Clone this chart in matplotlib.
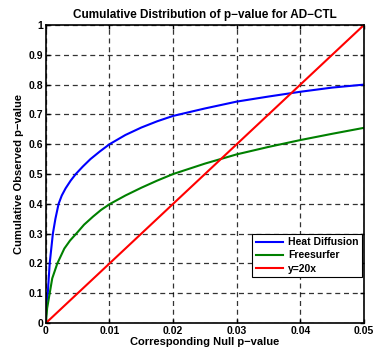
import numpy as np
import matplotlib
matplotlib.use("Agg")
import matplotlib.pyplot as plt

heat_x = [0, 0.00003, 0.0001, 0.0003, 0.0006, 0.0011, 0.0015, 0.002, 0.0025, 0.0031,
          0.0039, 0.0047, 0.0058, 0.007, 0.0085, 0.01, 0.0125, 0.015, 0.0175, 0.02,
          0.025, 0.03, 0.035, 0.04, 0.045, 0.05]
heat_y = [0, 0.04, 0.07, 0.1, 0.2, 0.3, 0.35, 0.4, 0.428, 0.452,
          0.478, 0.5, 0.525, 0.55, 0.576, 0.6, 0.631, 0.656, 0.677, 0.695,
          0.72, 0.743, 0.76, 0.776, 0.79, 0.80]
fs_x = [0, 0.0002, 0.0006, 0.001, 0.0018, 0.0029, 0.0038, 0.0049, 0.006, 0.0074,
        0.0087, 0.0101, 0.0125, 0.015, 0.0175, 0.02, 0.025, 0.03, 0.035, 0.04,
        0.045, 0.05]
fs_y = [0, 0.05, 0.1, 0.15, 0.2, 0.25, 0.277, 0.303, 0.33, 0.357,
        0.38, 0.4, 0.428, 0.454, 0.478, 0.5, 0.535, 0.566, 0.591, 0.614,
        0.635, 0.655]
null_x = [0, 0.05]
null_y = [0, 1.0]

xticks = [0, 0.01, 0.02, 0.03, 0.04, 0.05]
yticks = [0, 0.1, 0.2, 0.3, 0.4, 0.5, 0.6, 0.7, 0.8, 0.9, 1]

plt.rcParams["font.family"] = ["Liberation Sans", "DejaVu Sans"]
plt.rcParams["font.weight"] = "bold"

fig = plt.figure(figsize=(3.76, 3.57), dpi=100)
ax = fig.add_axes([0.122, 0.095, 0.846, 0.835])

ax.plot(heat_x, heat_y, color=(0, 0, 1), lw=1.5, label="Heat Diffusion")
ax.plot(fs_x, fs_y, color=(0, 0.5, 0), lw=1.5, label="Freesurfer")
ax.plot(null_x, null_y, color=(1, 0, 0), lw=1.5, label="y=20x")

ax.set_xlim(0, 0.05)
ax.set_ylim(0, 1)
ax.set_xticks(xticks)
ax.set_yticks(yticks)
ax.set_xticklabels([f"{t:g}" for t in xticks])
ax.set_yticklabels([f"{t:g}" for t in yticks])
ax.tick_params(direction="in", top=True, right=True, length=3, width=1,
               labelsize=7.5, pad=2)
for s in ax.spines.values():
    s.set_linewidth(1.2)
ax.grid(True, color="black", linestyle=(0, (4, 3)), linewidth=0.9, alpha=0.8)

ax.set_title("Cumulative Distribution of p\u2212value for AD\u2212CTL",
             fontsize=8.5, fontweight="bold", pad=5)
ax.set_xlabel("Corresponding Null p\u2212value", fontsize=8, fontweight="bold", labelpad=1)
ax.set_ylabel("Cumulative Observed p\u2212value", fontsize=8, fontweight="bold", labelpad=3)

leg = ax.legend(loc="upper right", bbox_to_anchor=(0.994, 0.30), fontsize=7.5,
                frameon=True, fancybox=False, framealpha=1, edgecolor="black",
                handlelength=2.6, borderaxespad=0, borderpad=0.35, labelspacing=0.3,
                handletextpad=0.5)
leg.get_frame().set_linewidth(0.8)

fig.savefig("out.png", dpi=100)
